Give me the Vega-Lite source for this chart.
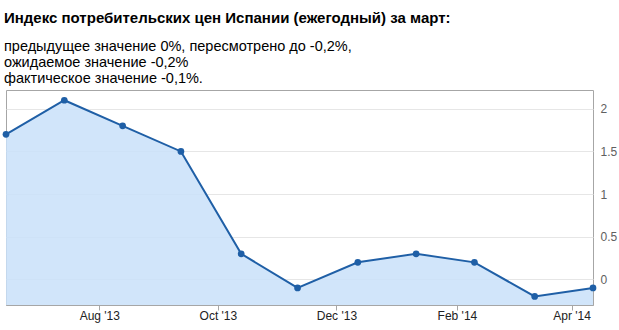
{
  "$schema": "https://vega.github.io/schema/vega-lite/v6.json",
  "autosize": {"type": "none"},
  "width": 587,
  "height": 215,
  "padding": {"left": 6, "top": 90, "right": 26, "bottom": 25},
  "background": "white",
  "title": {
    "text": "Индекс потребительских цен Испании (ежегодный) за март:",
    "subtitle": ["предыдущее значение 0%, пересмотрено до -0,2%,", "ожидаемое значение -0,2%", "фактическое значение -0,1%."],
    "anchor": "start",
    "frame": "bounds",
    "font": "Liberation Sans",
    "fontSize": 15,
    "fontWeight": "bold",
    "color": "#000000",
    "subtitleFont": "Liberation Sans",
    "subtitleFontSize": 14.5,
    "subtitleColor": "#000000",
    "subtitleLineHeight": 16,
    "subtitlePadding": 14,
    "offset": 5,
    "dx": 2
  },
  "data": {
    "values": [
      {"date": "2013-06-14", "value": 1.7},
      {"date": "2013-07-14", "value": 2.1},
      {"date": "2013-08-13", "value": 1.8},
      {"date": "2013-09-12", "value": 1.5},
      {"date": "2013-10-13", "value": 0.3},
      {"date": "2013-11-11", "value": -0.1},
      {"date": "2013-12-12", "value": 0.2},
      {"date": "2014-01-11", "value": 0.3},
      {"date": "2014-02-10", "value": 0.2},
      {"date": "2014-03-13", "value": -0.2},
      {"date": "2014-04-12", "value": -0.1}
    ]
  },
  "config": {
    "view": {"stroke": "#a6a6a6", "strokeWidth": 1},
    "axis": {"labelFont": "Liberation Sans", "labelFontSize": 12}
  },
  "encoding": {
    "x": {
      "field": "date",
      "type": "temporal",
      "scale": {"domain": ["2013-06-14", "2014-04-12"], "nice": false},
      "axis": {
        "title": null,
        "values": ["2013-08-01", "2013-10-01", "2013-12-01", "2014-02-01", "2014-04-01"],
        "format": "%b '%y",
        "labelColor": "#222222",
        "tickColor": "#a6a6a6",
        "tickSize": 5,
        "domainColor": "#a6a6a6",
        "labelPadding": 0,
        "grid": false,
        "labelFlush": false
      }
    },
    "y": {
      "field": "value",
      "type": "quantitative",
      "scale": {"domain": [-0.3, 2.22], "nice": false, "zero": false},
      "axis": {
        "orient": "right",
        "title": null,
        "values": [0, 0.5, 1, 1.5, 2],
        "format": "~g",
        "labelColor": "#606060",
        "ticks": false,
        "domain": false,
        "labelPadding": 7,
        "gridColor": "#e6e6e6"
      }
    }
  },
  "layer": [
    {"mark": {"type": "area", "color": "#c9e0f9", "opacity": 0.85}, "encoding": {"y2": {"datum": -0.3}}},
    {"mark": {"type": "line", "color": "#1f5fa6", "strokeWidth": 2}},
    {"mark": {"type": "point", "filled": true, "color": "#1f5fa6", "size": 45, "opacity": 1}}
  ]
}
